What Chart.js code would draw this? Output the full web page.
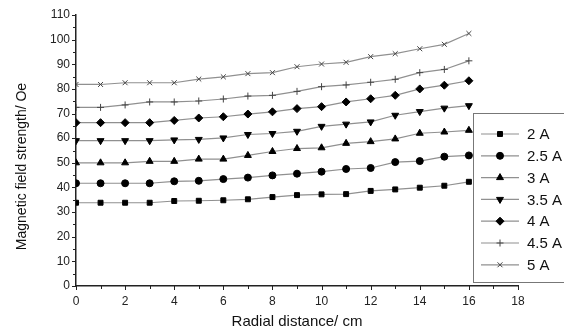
<!DOCTYPE html>
<html>
<head>
<meta charset="utf-8">
<script src="https://cdn.jsdelivr.net/npm/chart.js@4/dist/chart.umd.min.js"></script>
<style>
  html, body { margin: 0; padding: 0; background: #fff; }
  #wrap { width: 564px; height: 334px; }
</style>
</head>
<body>
<div id="wrap"><canvas id="grafico" width="564" height="334"></canvas></div>
<script>
const radialDistance = [0, 1, 2, 3, 4, 5, 6, 7, 8, 9, 10, 11, 12, 13, 14, 15, 16];
const seriesLabels = ['2 A', '2.5 A', '3 A', '3.5 A', '4 A', '4.5 A', '5 A'];

const field2A   = [33.8, 33.8, 33.8, 33.8, 34.5, 34.6, 34.8, 35.2, 36.1, 36.9, 37.2, 37.3, 38.6, 39.2, 39.9, 40.7, 42.3];
const field25A  = [41.7, 41.7, 41.7, 41.7, 42.5, 42.7, 43.4, 44.0, 44.9, 45.6, 46.4, 47.5, 47.9, 50.3, 50.7, 52.5, 53.0];
const field3A   = [50.0, 50.0, 50.0, 50.6, 50.6, 51.5, 51.5, 53.0, 54.6, 55.8, 56.1, 57.9, 58.6, 59.7, 62.0, 62.5, 63.2];
const field35A  = [59.0, 59.0, 59.0, 59.0, 59.3, 59.5, 60.1, 61.5, 61.9, 62.8, 64.8, 65.7, 66.6, 69.3, 70.8, 72.2, 73.2];
const field4A   = [66.3, 66.3, 66.3, 66.3, 67.2, 68.2, 68.7, 69.8, 70.7, 72.0, 72.8, 74.7, 76.0, 77.4, 80.0, 81.5, 83.3];
const field45A  = [72.5, 72.5, 73.5, 74.7, 74.7, 75.1, 75.9, 77.1, 77.4, 79.0, 80.9, 81.6, 82.7, 83.9, 86.6, 87.9, 91.4];
const field5A   = [81.8, 81.8, 82.5, 82.5, 82.5, 84.0, 84.9, 86.2, 86.6, 89.0, 90.1, 90.8, 93.1, 94.3, 96.3, 98.1, 102.5];

const allSeries = [field2A, field25A, field3A, field35A, field4A, field45A, field5A];
const markers = [
  { style: 'rect', rot: 0, r: 3.5 },
  { style: 'circle', rot: 0, r: 3.5 },
  { style: 'triangle', rot: 0, r: 4 },
  { style: 'triangle', rot: 180, r: 4 },
  { style: 'rectRot', rot: 0, r: 4 },
  { style: 'cross', rot: 0, r: 3.5 },
  { style: 'crossRot', rot: 0, r: 3.5 }
];

const FONT = "'Liberation Sans', Arial, sans-serif";

function montarDatasets() {
  return allSeries.map((valores, i) => ({
    label: seriesLabels[i],
    data: valores.map((v, k) => ({ x: radialDistance[k], y: v })),
    borderColor: '#909090',
    borderWidth: 1.2,
    pointStyle: markers[i].style,
    pointRotation: markers[i].rot,
    pointRadius: markers[i].r,
    pointBackgroundColor: '#000',
    pointBorderColor: i >= 5 ? '#444' : '#000',
    pointBorderWidth: 1,
    tension: 0
  }));
}

// minor/major tick marks + y title (Origin-style)
const marcasEixo = {
  id: 'marcasEixo',
  afterDraw(chart) {
    const { ctx, scales: { x, y } } = chart;
    ctx.save();
    ctx.strokeStyle = '#222';
    ctx.lineWidth = 1;
    ctx.beginPath();
    for (let v = 0; v <= 18; v++) {
      const px = Math.round(x.getPixelForValue(v)) + 0.5;
      const len = v % 2 === 0 ? 4 : 3;
      ctx.moveTo(px, y.bottom);
      ctx.lineTo(px, y.bottom + len);
    }
    for (let v = 0; v <= 110; v += 5) {
      const py = Math.round(y.getPixelForValue(v)) + 0.5;
      const len = v % 10 === 0 ? 4 : 3;
      ctx.moveTo(x.left, py);
      ctx.lineTo(x.left - len, py);
    }
    ctx.stroke();

    ctx.translate(22, (y.top + y.bottom) / 2 + 16);
    ctx.rotate(-Math.PI / 2);
    ctx.fillStyle = '#111';
    ctx.font = '14px ' + FONT;
    ctx.textAlign = 'center';
    ctx.textBaseline = 'middle';
    ctx.fillText('Magnetic field strength/ Oe', 0, 0);
    ctx.restore();
  }
};

// legend box inside the plot, cut by the right edge
const legendaCaixa = {
  id: 'legendaCaixa',
  afterDraw(chart) {
    const { ctx, chartArea } = chart;
    const left = chartArea.right - 45;
    const top = chartArea.top + 98;
    const rowH = 21.8;
    ctx.save();
    ctx.fillStyle = '#fff';
    ctx.fillRect(left, top, 120, 169);
    ctx.strokeStyle = '#777';
    ctx.lineWidth = 1;
    ctx.strokeRect(left + 0.5, top + 0.5, 120, 169);
    ctx.font = '15px ' + FONT;
    ctx.textBaseline = 'middle';
    seriesLabels.forEach((lab, i) => {
      const cy = top + 21 + i * rowH;
      ctx.strokeStyle = '#909090';
      ctx.lineWidth = 1.2;
      ctx.beginPath();
      ctx.moveTo(left + 8, cy);
      ctx.lineTo(left + 46, cy);
      ctx.stroke();
      ctx.fillStyle = '#000';
      ctx.strokeStyle = i >= 5 ? '#444' : '#000';
      ctx.lineWidth = 1;
      Chart.helpers.drawPoint(ctx, { pointStyle: markers[i].style, rotation: markers[i].rot, radius: markers[i].r, borderWidth: 1 }, left + 27, cy);
      ctx.fillStyle = '#111';
      ctx.fillText(lab, left + 54, cy + 1);
    });
    ctx.restore();
  }
};

function gerarGrafico() {
  const ctx = document.getElementById('grafico').getContext('2d');
  new Chart(ctx, {
    type: 'line',
    data: { datasets: montarDatasets() },
    plugins: [marcasEixo, legendaCaixa],
    options: {
      responsive: false,
      animation: false,
      layout: { padding: { top: 15, right: 46, left: 0, bottom: 0 } },
      plugins: { legend: { display: false }, tooltip: { enabled: false } },
      scales: {
        x: {
          type: 'linear',
          min: 0, max: 18,
          afterFit: s => { s.height = 48; },
          grid: { display: false, drawTicks: false },
          border: { display: true, color: '#222', width: 1.5 },
          ticks: { stepSize: 2, padding: 8, color: '#222', font: { family: FONT, size: 12 } },
          title: { display: true, text: 'Radial distance/ cm', color: '#111', font: { family: FONT, size: 15 }, padding: { top: 0, bottom: 3 } }
        },
        y: {
          min: 0, max: 110,
          afterFit: s => { s.width = 76; },
          grid: { display: false, drawTicks: false },
          border: { display: true, color: '#222', width: 1.5 },
          ticks: { stepSize: 10, padding: 6, color: '#222', font: { family: FONT, size: 12 } },
          title: { display: false }
        }
      }
    }
  });
}

document.addEventListener('DOMContentLoaded', gerarGrafico);
</script>
</body>
</html>
